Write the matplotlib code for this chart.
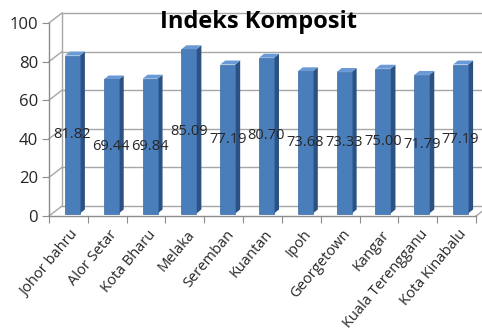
import matplotlib
matplotlib.use("Agg")
import matplotlib.pyplot as plt
import matplotlib.transforms as mtransforms
from matplotlib.patches import Polygon

categories = ["Johor bahru", "Alor Setar", "Kota Bharu", "Melaka", "Seremban",
              "Kuantan", "Ipoh", "Georgetown", "Kangar", "Kuala Terengganu", "Kota Kinabalu"]
values = [81.82, 69.44, 69.84, 85.09, 77.19, 80.70, 73.68, 73.33, 75.00, 71.79, 77.19]
labels = ["81.82", "69.44", "69.84", "85.09", "77.19", "80.70", "73.68", "73.33", "75.00", "71.79", "77.19"]
yticks = [0, 20, 40, 60, 80, 100]
title = "Indeks Komposit"

plt.rcParams['font.family'] = ['Open Sans', 'DejaVu Sans']

W, H = 482, 332
fig = plt.figure(figsize=(W / 100, H / 100), dpi=100)
x0, x1 = 49, 476
y0, y1 = 216, 23
ax = fig.add_axes([x0 / W, (H - y0) / H, (x1 - x0) / W, (y0 - y1) / H])
n = len(categories)
ax.set_xlim(0, n)
ax.set_ylim(0, 100)

px_x = n / (x1 - x0)          # data units per pixel (x)
px_y = 100 / (y0 - y1)        # data units per pixel (y)

grid_c = "#a6a6a6"
# depth offsets of the back wall
dx, dy = 13 * px_x, 10 * px_y
for v in yticks:
    ax.plot([dx, n + dx + 5 * px_x], [v + dy, v + dy], color=grid_c, lw=1, clip_on=False, zorder=1)
    ax.plot([0, dx], [v, v + dy], color=grid_c, lw=1, clip_on=False, zorder=1)
ax.plot([dx, dx], [dy, 100 + dy], color=grid_c, lw=1, clip_on=False, zorder=1)
ax.plot([n, n + dx], [0, dy], color=grid_c, lw=1, clip_on=False, zorder=1)

# bars
w = 15 * px_x
ox, oy = 4 * px_x, 2.5 * px_y
sdx, sdy = 5 * px_x, 4 * px_y
front_c, side_c, top_c = "#4a7ebb", "#2c5283", "#6a9ad6"
for i, v in enumerate(values):
    xl = i + 0.5 - w / 2 + ox
    xr = xl + w
    b = oy
    t = v + oy
    ax.add_patch(Polygon([(xr, b), (xr, t), (xr + sdx, t + sdy), (xr + sdx, b + sdy)],
                         closed=True, facecolor=side_c, edgecolor="none", zorder=3, clip_on=False))
    ax.add_patch(Polygon([(xl, t), (xr, t), (xr + sdx, t + sdy), (xl + sdx, t + sdy)],
                         closed=True, facecolor=top_c, edgecolor="none", zorder=3, clip_on=False))
    ax.add_patch(Polygon([(xl, b), (xr, b), (xr, t), (xl, t)],
                         closed=True, facecolor=front_c, edgecolor="#3a6aa5", lw=0.5, zorder=4, clip_on=False))
    ax.text((xl + xr) / 2, v / 2 + oy, labels[i], ha="center", va="center",
            fontsize=10.5, color="#262626", zorder=6)

# axes
for s in ["top", "right"]:
    ax.spines[s].set_visible(False)
for s in ["left", "bottom"]:
    ax.spines[s].set_color("#8c8c8c")
    ax.spines[s].set_linewidth(1)
ax.set_yticks(yticks)
ax.set_yticklabels([str(t) for t in yticks], fontsize=12, color="#262626")
ax.tick_params(axis="y", direction="out", length=5, color="#8c8c8c", pad=3)
ax.set_xticks(range(n + 1))
ax.set_xticklabels([])
ax.tick_params(axis="x", which="major", direction="out", length=5, color="#8c8c8c")
ax.set_xticks([i + 0.5 for i in range(n)], minor=True)
ax.set_xticklabels(categories, minor=True, rotation=50, ha="right", va="top",
                   rotation_mode="anchor", fontsize=10.5, color="#262626")
ax.tick_params(axis="x", which="minor", length=0, pad=8)
offset = mtransforms.ScaledTranslation(2 / 100, 0, fig.dpi_scale_trans)
for lab in ax.get_xticklabels(minor=True):
    lab.set_transform(lab.get_transform() + offset)

fig.text(258 / W, 1 - 22 / H, title, ha="center", va="center",
         fontsize=17, fontweight="bold", color="black")

fig.savefig("out.png", dpi=100)
